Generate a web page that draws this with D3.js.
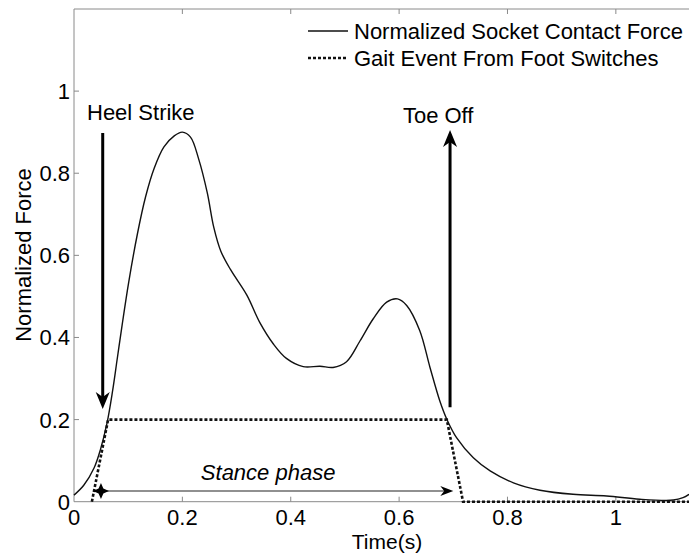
<!DOCTYPE html>
<html>
<head>
<meta charset="utf-8">
<script src="https://cdn.jsdelivr.net/npm/d3@7"></script>
<style>
  body { margin: 0; background: #fff; }
  svg text { font-family: "Liberation Sans", Arial, sans-serif; fill: #000; }
</style>
</head>
<body>
<div id="chart"></div>
<script>
"use strict"

// normalized socket contact force
const forceTime = [0, 0.018, 0.037, 0.049, 0.061, 0.071, 0.080, 0.089, 0.101, 0.117, 0.132, 0.148, 0.166,
  0.185, 0.200, 0.215, 0.230, 0.246, 0.258, 0.271, 0.289, 0.319, 0.343, 0.368, 0.392, 0.423, 0.454,
  0.478, 0.503, 0.528, 0.552, 0.577, 0.597, 0.614, 0.638, 0.657, 0.675, 0.688, 0.706, 0.737, 0.768,
  0.811, 0.860, 0.921, 0.983, 1.044, 1.106, 1.124, 1.135];
const forceValue = [0.016, 0.040, 0.082, 0.128, 0.192, 0.268, 0.350, 0.432, 0.535, 0.652, 0.742, 0.812, 0.864,
  0.891, 0.900, 0.888, 0.835, 0.752, 0.668, 0.610, 0.565, 0.503, 0.436, 0.384, 0.349, 0.329, 0.330,
  0.327, 0.341, 0.392, 0.445, 0.486, 0.494, 0.478, 0.417, 0.327, 0.246, 0.201, 0.156, 0.107, 0.075,
  0.046, 0.028, 0.018, 0.014, 0.006, 0.004, 0.010, 0.018];

// gait event (foot switches)
const gaitTime = [0.033, 0.063, 0.688, 0.718, 1.14];
const gaitValue = [0, 0.2, 0.2, 0, 0];

const xTicks = [0, 0.2, 0.4, 0.6, 0.8, 1];
const yTicks = [0, 0.2, 0.4, 0.6, 0.8, 1];
const xTickLabels = ["0", "0.2", "0.4", "0.6", "0.8", "1"];
const yTickLabels = ["0", "0.2", "0.4", "0.6", "0.8", "1"];

const legendLabels = ["Normalized Socket Contact Force", "Gait Event From Foot Switches"];

// annotations in data units
const heelStrike = { t: 0.053, from: 0.898, to: 0.226, label: "Heel Strike", labelT: 0.024, labelV: 0.93 };
const toeOff = { t: 0.694, from: 0.23, to: 0.905, label: "Toe Off", labelT: 0.607, labelV: 0.922 };
const stance = { v: 0.026, from: 0.035, to: 0.70, label: "Stance phase", labelV: 0.053 };

const width = 689, height = 554;
const margin = { left: 74, top: 9, bottom: 53 };

const svg = d3.select("#chart").append("svg")
    .attr("width", width)
    .attr("height", height);

const x = d3.scaleLinear().domain([0, 1.135]).range([margin.left, width]);
const y = d3.scaleLinear().domain([0, 1.2]).range([height - margin.bottom + 0.7, margin.top]);

const axisColor = "#8a8a8a";
const fontSize = "22px";

drawAxes();
drawLines();
drawAnnotations();
drawLegend();

function drawAxes() {
    let x0 = x.range()[0], x1 = x.range()[1];
    let y0 = y.range()[0], y1 = y.range()[1];

    // box
    svg.append("path")
        .attr("d", `M${x1 + 5},${y1}H${x0}V${y0}H${x1 + 5}`)
        .style("fill", "none")
        .style("stroke", axisColor)
        .style("stroke-width", "1px");

    // inward ticks, bottom and top
    for (let t of xTicks) {
        if (t === 0) continue;
        svg.append("line")
            .attr("x1", x(t)).attr("x2", x(t))
            .attr("y1", y0).attr("y2", y0 - 5)
            .style("stroke", axisColor);
        svg.append("line")
            .attr("x1", x(t)).attr("x2", x(t))
            .attr("y1", y1).attr("y2", y1 + 5)
            .style("stroke", axisColor);
    }
    for (let v of yTicks) {
        if (v === 0) continue;
        svg.append("line")
            .attr("x1", x0).attr("x2", x0 + 5)
            .attr("y1", y(v)).attr("y2", y(v))
            .style("stroke", axisColor);
    }

    xTicks.forEach((t, i) => {
        svg.append("text")
            .attr("x", x(t))
            .attr("y", y0 + 23.5)
            .style("font-size", fontSize)
            .style("text-anchor", "middle")
            .text(xTickLabels[i]);
    });
    yTicks.forEach((v, i) => {
        svg.append("text")
            .attr("x", x0 - 4)
            .attr("y", y(v) + 8)
            .style("font-size", fontSize)
            .style("text-anchor", "end")
            .text(yTickLabels[i]);
    });

    svg.append("text")
        .attr("x", 387)
        .attr("y", 549)
        .style("font-size", "21px")
        .style("text-anchor", "middle")
        .text("Time(s)");

    svg.append("text")
        .attr("transform", "translate(31,255) rotate(-90)")
        .style("font-size", fontSize)
        .style("text-anchor", "middle")
        .text("Normalized Force");
}

function drawLines() {
    let forceLine = d3.line()
        .x((d, i) => x(forceTime[i]))
        .y(d => y(d))
        .curve(d3.curveCatmullRom.alpha(0.5));

    svg.append("path")
        .attr("d", forceLine(forceValue))
        .style("fill", "none")
        .style("stroke", "#111")
        .style("stroke-width", "1.4px");

    let gaitLine = d3.line()
        .x((d, i) => x(gaitTime[i]))
        .y(d => y(d));

    svg.append("path")
        .attr("d", gaitLine(gaitValue))
        .style("fill", "none")
        .style("stroke", "#111")
        .style("stroke-width", "2.6px")
        .style("stroke-dasharray", "3,2");
}

// concave arrowhead pointing along angle (radians) with tip at (tx, ty)
function headPath(tx, ty, angle, len, half) {
    let c = Math.cos(angle), s = Math.sin(angle);
    let pt = (a, b) => [tx + a * c - b * s, ty + a * s + b * c];
    let p = [pt(0, 0), pt(-len, half), pt(-len * 0.7, 0), pt(-len, -half)];
    return "M" + p.map(q => q.join(",")).join("L") + "Z";
}

function star4Path(tx, ty, angle, len, half) {
    let c = Math.cos(angle), s = Math.sin(angle);
    let pt = (a, b) => [tx + a * c - b * s, ty + a * s + b * c];
    let m = -len / 2, k = half * 0.3;
    let p = [pt(0, 0), pt(m + k, k), pt(m, half), pt(m - k, k), pt(-len, 0), pt(m - k, -k), pt(m, -half), pt(m + k, -k)];
    return "M" + p.map(q => q.join(",")).join("L") + "Z";
}

function drawAnnotations() {
    // heel strike, arrow pointing down
    let hx = x(heelStrike.t);
    svg.append("line")
        .attr("x1", hx).attr("x2", hx)
        .attr("y1", y(heelStrike.from)).attr("y2", y(heelStrike.to) - 8)
        .style("stroke", "#000")
        .style("stroke-width", "3px");
    svg.append("path")
        .attr("d", headPath(hx, y(heelStrike.to), Math.PI / 2, 17, 7))
        .style("fill", "#000");

    // toe off, arrow pointing up
    let tx = x(toeOff.t);
    svg.append("line")
        .attr("x1", tx).attr("x2", tx)
        .attr("y1", y(toeOff.from)).attr("y2", y(toeOff.to) + 8)
        .style("stroke", "#000")
        .style("stroke-width", "3px");
    svg.append("path")
        .attr("d", headPath(tx, y(toeOff.to), -Math.PI / 2, 17, 7))
        .style("fill", "#000");

    svg.append("text")
        .attr("x", x(heelStrike.labelT))
        .attr("y", y(heelStrike.labelV))
        .style("font-size", fontSize)
        .text(heelStrike.label);
    svg.append("text")
        .attr("x", x(toeOff.labelT))
        .attr("y", y(toeOff.labelV))
        .style("font-size", fontSize)
        .text(toeOff.label);

    // stance phase double arrow
    let sy = y(stance.v);
    svg.append("line")
        .attr("x1", x(stance.from) + 6).attr("x2", x(stance.to) - 8)
        .attr("y1", sy).attr("y2", sy)
        .style("stroke", "#222")
        .style("stroke-width", "1.2px");
    svg.append("path")
        .attr("d", headPath(x(stance.to), sy, 0, 13, 5))
        .style("fill", "#000");
    svg.append("path")
        .attr("d", star4Path(x(stance.from), sy, Math.PI, 16, 8))
        .style("fill", "#000");

    svg.append("text")
        .attr("x", (x(stance.from) + x(stance.to)) / 2 - 5)
        .attr("y", y(stance.labelV))
        .style("font-size", fontSize)
        .style("font-style", "italic")
        .style("text-anchor", "middle")
        .text(stance.label);
}

function drawLegend() {
    let rows = [31, 58];
    legendLabels.forEach((label, i) => {
        svg.append("line")
            .attr("x1", 308).attr("x2", 348)
            .attr("y1", rows[i]).attr("y2", rows[i])
            .style("stroke", "#111")
            .style("stroke-width", i === 0 ? "1.4px" : "2.6px")
            .style("stroke-dasharray", i === 0 ? null : "3,2");
        svg.append("text")
            .attr("x", 354)
            .attr("y", rows[i] + 8)
            .style("font-size", fontSize)
            .text(label);
    });
}
</script>
</body>
</html>
